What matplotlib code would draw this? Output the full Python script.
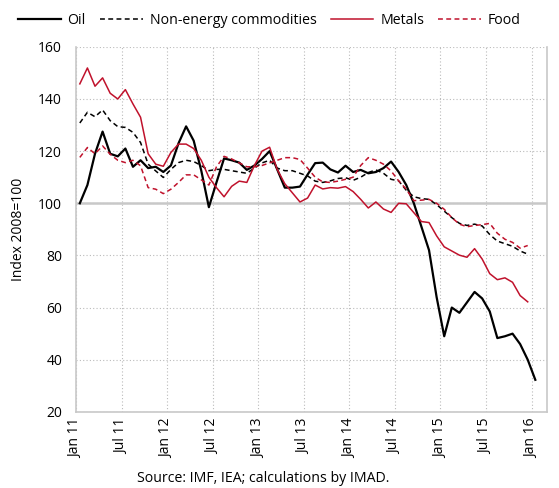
import numpy as np
import matplotlib.pyplot as plt

plt.rcParams['font.family'] = ['Open Sans', 'DejaVu Sans']

# monthly indices, Jan 2011 .. Jan 2016 (2008 = 100)
oil = [100, 107, 119, 127.5, 119, 118, 121, 114, 116.5, 113.5, 114, 112,
       114.5, 123, 129.5, 124, 112.5, 98.5, 108, 117.2, 116.5, 115.6, 112.8, 114.5,
       117, 120, 113, 106, 106, 106.4, 111, 115.4, 115.6, 113, 111.8, 114.4,
       112, 112.8, 111.5, 112, 113.5, 116, 112, 107, 100, 91, 82, 64,
       49, 60, 58, 62, 66, 63.5, 58.5, 48.3, 49, 50, 46, 40, 32.3]
non_energy = [130.8, 134.9, 133.2, 135.8, 131.7, 129.4, 129.1, 127.2, 123.3, 115, 112.4, 109.9,
              113, 115.6, 116.5, 116, 114.5, 112.5, 113, 113, 112.5, 112, 111.5, 113.5,
              115.5, 116.5, 113.5, 112.5, 112.5, 111.5, 110.5, 108.5, 108, 108.6, 109.5, 109.8,
              108.8, 110, 111.8, 112.8, 111.5, 109.2, 108.6, 105, 102.5, 101.8, 101.5, 99.5,
              97, 94.5, 92.3, 91.5, 92, 91.3, 88, 85.5, 84.5, 83.5, 81.7, 80.5]
metals = [145.8, 151.9, 144.9, 148.1, 142.2, 140, 143.6, 138.1, 133, 119, 115, 114.2,
          119.5, 122.7, 122.7, 121, 116.5, 110, 106, 102.5, 106.5, 108.5, 108, 114.5,
          120, 121.5, 113, 107.5, 104, 100.5, 102, 107, 105.5, 106, 105.8, 106.4,
          104.5, 101.5, 98.2, 100.5, 97.8, 96.5, 100, 99.8, 96.4, 93, 92.6, 87.5,
          83.3, 81.7, 80.1, 79.3, 82.6, 78.6, 73, 70.7, 71.4, 69.7, 64.6, 62.2]
food = [117.6, 121.4, 119, 122, 118.8, 116.5, 115.6, 116.5, 114.4, 106, 105.4, 103.7,
        105.4, 108, 110.9, 110.9, 109, 107, 114, 118, 117, 115.5, 114, 114,
        114.5, 115.5, 116.5, 117.5, 117.5, 116.8, 113.5, 110, 108.2, 108, 108.5, 109.2,
        110, 114.5, 117.5, 116.5, 115, 112.4, 108.6, 105.4, 101, 101.2, 101.5, 100,
        97.7, 94.5, 92, 91, 91.5, 91.8, 92.3, 88.5, 86.2, 85, 82.8, 83.8]
tick_labels = ['Jan 11', 'Jul 11', 'Jan 12', 'Jul 12', 'Jan 13', 'Jul 13',
               'Jan 14', 'Jul 14', 'Jan 15', 'Jul 15', 'Jan 16']

red = '#C0122C'
dash = (0, (3.2, 2.2))

fig = plt.figure(figsize=(5.59, 4.88), dpi=100)
ax = fig.add_axes([0.136, 0.156, 0.842, 0.748])

ax.plot(np.arange(len(oil)), oil, color='black', lw=1.6, label='Oil')
ax.plot(np.arange(len(non_energy)), non_energy, color='black', lw=1.1, linestyle=dash,
        label='Non-energy commodities')
ax.plot(np.arange(len(metals)), metals, color=red, lw=1.1, label='Metals')
ax.plot(np.arange(len(food)), food, color=red, lw=1.1, linestyle=dash, label='Food')

ax.set_xlim(-0.5, 61.5)
ax.set_ylim(20, 160)
ax.set_yticks(range(20, 161, 20))
ax.set_xticks(np.arange(0, 61, 6) - 0.5)
ax.set_xticklabels(tick_labels, rotation=90)
ax.tick_params(length=0, labelsize=10)
ax.tick_params(axis='y', pad=10)
ax.tick_params(axis='x', pad=5)
ax.grid(True, color='#BBBBBB', linestyle=(0, (1, 2)), linewidth=0.8)
ax.set_axisbelow(True)
ax.axhline(100, color='#C8C8C8', lw=1.8, zorder=1)
for s in ax.spines.values():
    s.set_color('#C8C8C8')
    s.set_linewidth(1.2)
ax.spines['top'].set_visible(False)

ax.set_ylabel('Index 2008=100', fontsize=10, labelpad=9)
fig.text(0.471, 0.012, 'Source: IMF, IEA; calculations by IMAD.', ha='center', fontsize=10.2)

fig.legend(loc='upper center', bbox_to_anchor=(0.482, 1.0), ncol=4, frameon=False,
           fontsize=10.2, handlelength=3.0, handletextpad=0.5, columnspacing=1.0)

fig.savefig('out.png', dpi=100)
